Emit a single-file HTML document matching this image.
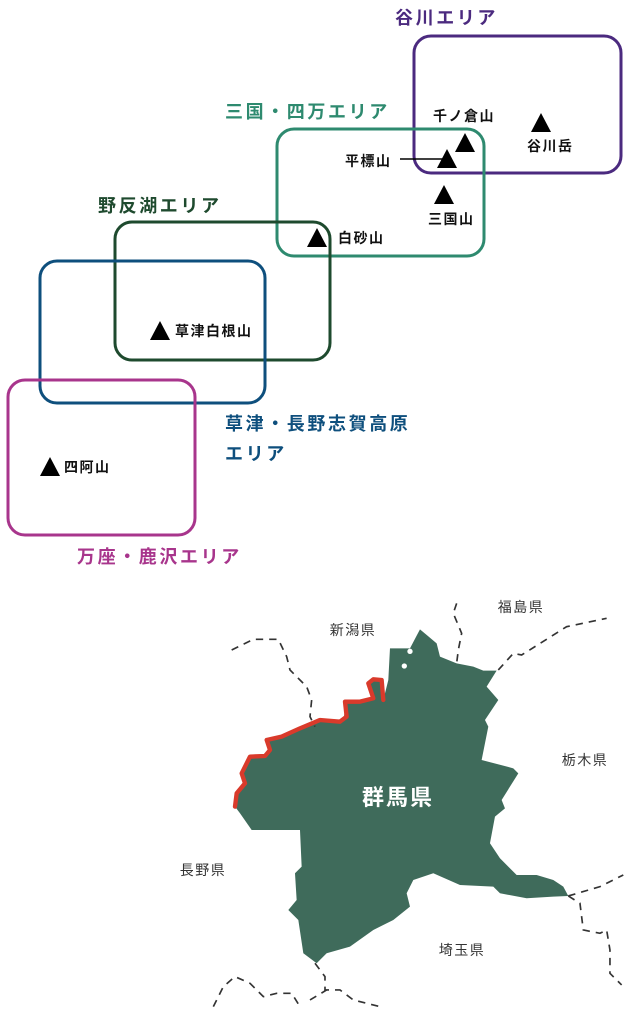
<!DOCTYPE html>
<html><head><meta charset="utf-8"><style>
body{margin:0;background:#fff;width:630px;height:1010px;overflow:hidden}
svg{display:block}
text{font-family:"Liberation Sans","Noto Sans CJK JP",sans-serif}
</style></head><body>
<svg width="630" height="1010" viewBox="0 0 630 1010">
<g fill="none" stroke-width="3">
<rect x="414" y="36" width="207" height="137" rx="17" stroke="#4b2a7f"/>
<rect x="277" y="129" width="207" height="127" rx="17" stroke="#2e8a6f"/>
<rect x="115" y="222" width="215" height="138" rx="17" stroke="#1e4a2e"/>
<rect x="40" y="261" width="225" height="142" rx="17" stroke="#0e4f7d"/>
<rect x="8" y="380" width="187" height="155" rx="17" stroke="#a8358c"/>
</g>
<g font-weight="bold" font-size="18" letter-spacing="2.6">
<text x="395" y="24" fill="#4b2a7f">谷川エリア</text>
<text x="225" y="118" fill="#2e8a6f">三国・四万エリア</text>
<text x="98" y="212" fill="#1e4a2e">野反湖エリア</text>
<text x="225" y="430" fill="#0e4f7d">草津・長野志賀高原</text>
<text x="225" y="460" fill="#0e4f7d">エリア</text>
<text x="77" y="563" fill="#a8358c">万座・鹿沢エリア</text>
</g>
<g fill="#000">
<polygon points="465,133 455,152 475,152"/>
<polygon points="541,113 531,132 551,132"/>
<polygon points="447,149 437,168 457,168"/>
<polygon points="444,185 434,204 454,204"/>
<polygon points="317,228 307,247 327,247"/>
<polygon points="160,321 150,340 170,340"/>
<polygon points="50,457 40,476 60,476"/>
</g>
<line x1="400" y1="159" x2="445" y2="159" stroke="#000" stroke-width="1.5"/>
<g font-weight="bold" font-size="14" fill="#111" letter-spacing="1.5">
<text x="433" y="121">千ノ倉山</text>
<text x="527" y="151">谷川岳</text>
<text x="345" y="166">平標山</text>
<text x="428" y="224">三国山</text>
<text x="338" y="243">白砂山</text>
<text x="175" y="336">草津白根山</text>
<text x="64" y="472">四阿山</text>
</g>
<g transform="translate(200,600) scale(0.3333)">
<path fill="#3f6b5b" d="M660,88 L710,130 720,170 770,190 820,200 850,212 890,212 860,260 895,300 855,360 865,380 845,480 940,505 955,520 905,600 915,625 885,650 870,730 900,775 950,825 1010,825 1060,840 1090,860 1105,888 1060,890 980,895 900,880 880,860 780,855 700,820 640,840 620,880 630,920 580,960 520,990 450,1040 380,1060 350,1090 310,1060 295,960 265,930 290,900 285,820 305,800 300,690 155,690 120,640 105,620 110,580 135,550 125,520 150,470 205,460 200,420 240,410 300,385 355,355 430,360 440,305 520,295 505,245 545,240 550,300 565,240 570,145 630,145 Z"/>
<polyline fill="none" stroke="#d93a2b" stroke-width="13" stroke-linejoin="round" stroke-linecap="round" points="105,620 110,580 135,550 125,520 150,470 195,468 210,450 200,420 245,410 300,385 360,360 420,365 440,350 435,305 480,305 520,295 505,250 520,238 545,240 550,300"/>
<circle cx="630" cy="154" r="8" fill="#fff"/><circle cx="613" cy="198" r="8" fill="#fff"/>
<g fill="none" stroke="#333" stroke-width="5" stroke-dasharray="22,18">
<polyline points="95,150 160,118 235,118 260,170 270,210 320,260 335,300 330,350 345,380"/>
<polyline points="770,10 760,40 785,100 775,150 770,190"/>
<polyline points="895,210 940,160 965,165 1100,80 1220,55"/>
<polyline points="1105,888 1200,860 1270,825"/>
<polyline points="1105,888 1140,910 1150,990 1200,1000 1220,990 1230,1050 1230,1120 1265,1155"/>
<polyline points="345,1090 375,1130 375,1170 420,1170 460,1200 540,1220"/>
<polyline points="40,1220 70,1160 105,1130 150,1150 190,1190 230,1180 275,1180 300,1220"/>
<polyline points="330,1200 380,1170"/>
</g>
</g>
<g font-size="14" fill="#333" text-anchor="middle" letter-spacing="1.5">
<text x="353" y="635">新潟県</text>
<text x="521" y="612">福島県</text>
<text x="585" y="765">栃木県</text>
<text x="203" y="875">長野県</text>
<text x="462" y="955">埼玉県</text>
</g>
<text x="398" y="805" font-size="22" font-weight="bold" fill="#fff" text-anchor="middle" letter-spacing="2">群馬県</text>
</svg>
</body></html>
